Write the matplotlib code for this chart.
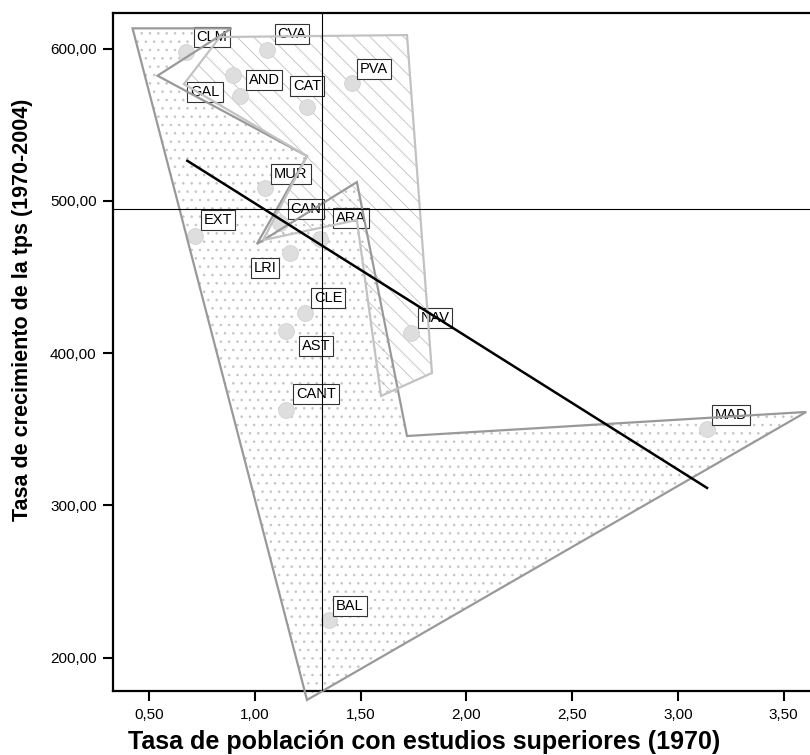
import matplotlib.pyplot as plt
from matplotlib.patches import Polygon
from matplotlib.ticker import FuncFormatter

plt.rcParams['font.family'] = ['Liberation Sans', 'DejaVu Sans']
plt.rcParams['hatch.linewidth'] = 0.6

# Comunidades autónomas
regions = ['CLM', 'CVA', 'AND', 'GAL', 'CAT', 'PVA', 'MUR', 'CAN', 'ARA',
           'EXT', 'LRI', 'CLE', 'AST', 'NAV', 'CANT', 'MAD', 'BAL']
# Tasa de población con estudios superiores (1970)
estudios = [0.674, 1.057, 0.896, 0.929, 1.246, 1.459, 1.047, 1.118, 1.307,
            0.716, 1.166, 1.237, 1.147, 1.738, 1.147, 3.138, 1.350]
# Tasa de crecimiento de la tps (1970-2004)
crecimiento = [597.8, 599.1, 582.7, 568.9, 561.7, 577.5, 508.5, 485.5, 475.0,
               476.8, 465.6, 426.2, 414.6, 413.3, 362.6, 350.2, 224.9]

# reference lines and fitted line
ref_x = 1.318
ref_y = 494.5
fit_x = [0.680, 3.138]
fit_y = [526.4, 311.5]

# shaded areas
area_dots_x = [0.421, 0.889, 0.539, 1.246, 1.009, 1.482, 1.719, 3.607, 1.246]
area_dots_y = [613.4, 613.4, 582.3, 529.5, 471.7, 512.4, 345.6, 361.4, 172.2]
area_hatch_x = [0.664, 0.834, 1.719, 1.837, 1.596, 1.482, 1.038, 1.246]
area_hatch_y = [576.8, 607.7, 609.0, 387.0, 371.9, 487.5, 474.3, 529.5]

# label offsets in pixels (box centre relative to point)
offsets = {'CLM': (26, 15), 'CVA': (25, 16), 'AND': (31, -5), 'GAL': (-35, 4),
           'CAT': (0, 21), 'PVA': (22, 14), 'MUR': (26, 14), 'CAN': (26, 14),
           'ARA': (31, 21), 'EXT': (23, 16), 'LRI': (-25, -15), 'CLE': (23, 15),
           'AST': (30, -15), 'NAV': (24, 15), 'CANT': (30, 16), 'MAD': (24, 14),
           'BAL': (21, 14)}

fig = plt.figure(figsize=(8.1, 7.55), dpi=100)
ax = fig.add_axes([0.1399, 0.0848, 0.8601, 0.8976])

def draw_area(xs, ys, hatch, hatch_col, edge_col):
    pts = list(zip(xs, ys))
    ax.add_patch(Polygon(pts, closed=True, facecolor='none', edgecolor=hatch_col,
                         hatch=hatch, linewidth=0, zorder=1, clip_on=False))
    ax.add_patch(Polygon(pts, closed=True, facecolor='none', edgecolor=edge_col,
                         linewidth=1.6, zorder=4, clip_on=False))

draw_area(area_dots_x, area_dots_y, '..', '#c4c4c4', '#999999')
draw_area(area_hatch_x, area_hatch_y, '\\\\', '#c0c0c0', '#c2c2c2')

ax.scatter(estudios, crecimiento, s=130, color='#dedede', edgecolor='#d2d2d2',
           linewidth=0.6, zorder=2)

for name, x, y in zip(regions, estudios, crecimiento):
    dx, dy = offsets[name]
    ax.annotate(name, (x, y), xytext=(dx, dy), textcoords='offset pixels',
                ha='center', va='center', fontsize=10.5, zorder=3,
                bbox=dict(boxstyle='square,pad=0.2', facecolor='white',
                          edgecolor='#333333', linewidth=0.8))

ax.axvline(ref_x, color='black', linewidth=0.8, zorder=4)
ax.axhline(ref_y, color='black', linewidth=0.8, zorder=4)
ax.plot(fit_x, fit_y, color='black', linewidth=1.8, zorder=5)

ax.set_xlim(0.330, 3.625)
ax.set_ylim(178.1, 623.3)
ax.set_xticks([0.5, 1.0, 1.5, 2.0, 2.5, 3.0, 3.5])
ax.set_yticks([200, 300, 400, 500, 600])
fmt = FuncFormatter(lambda v, p: f'{v:.2f}'.replace('.', ','))
ax.xaxis.set_major_formatter(fmt)
ax.yaxis.set_major_formatter(fmt)
ax.tick_params(direction='out', length=7, width=1.5, labelsize=11, pad=5)

ax.spines['right'].set_visible(False)
for s in ['left', 'bottom', 'top']:
    ax.spines[s].set_linewidth(1.6)

ax.set_xlabel('Tasa de población con estudios superiores (1970)',
              fontsize=18, fontweight='bold', va='top')
ax.set_ylabel('Tasa de crecimiento de la tps (1970-2004)',
              fontsize=15.5, fontweight='bold')
ax.xaxis.set_label_coords(0.446, -0.058)
ax.yaxis.set_label_coords(-0.115, 0.562)

fig.savefig('out.png', dpi=100)
